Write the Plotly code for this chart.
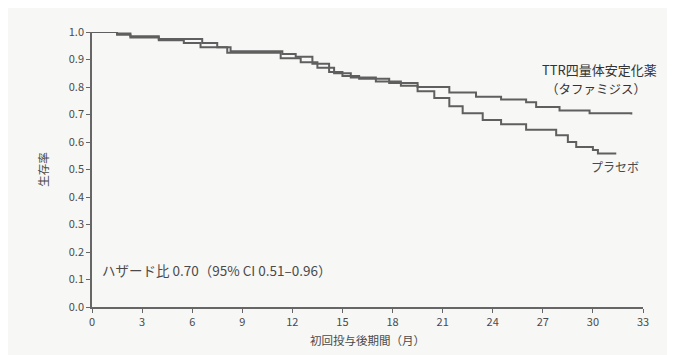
import plotly.graph_objects as go

# Kaplan-Meier curves (months, survival probability)
taf_t = [0, 1.5, 2.3, 4.0, 6.6, 7.5, 8.3, 11.4, 12.2, 13.2, 14.2, 15.0, 16.0,
         17.8, 19.5, 21.4, 23.0, 24.5, 26.0, 26.6, 28.0, 29.8, 32.3]
taf_s = [1.0, 0.995, 0.985, 0.975, 0.96, 0.945, 0.93, 0.92, 0.91, 0.885, 0.855, 0.84, 0.83,
         0.815, 0.80, 0.78, 0.765, 0.755, 0.745, 0.727, 0.715, 0.705, 0.70]

pla_t = [0, 1.5, 2.3, 4.0, 5.5, 6.5, 8.1, 11.3, 12.5, 13.5, 14.5, 15.5, 17.0, 18.5,
         19.5, 20.5, 21.4, 22.2, 23.4, 24.5, 26.0, 27.8, 28.5, 29.0, 30.0, 30.3, 31.4]
pla_s = [1.0, 0.99, 0.98, 0.97, 0.96, 0.945, 0.925, 0.905, 0.89, 0.87, 0.85, 0.835, 0.82, 0.805,
         0.785, 0.76, 0.73, 0.705, 0.68, 0.665, 0.645, 0.625, 0.60, 0.582, 0.571, 0.558, 0.558]

x_ticks = [0, 3, 6, 9, 12, 15, 18, 21, 24, 27, 30, 33]
y_ticks = [0.0, 0.1, 0.2, 0.3, 0.4, 0.5, 0.6, 0.7, 0.8, 0.9, 1.0]

label_taf_1 = "TTR四量体安定化薬"
label_taf_2 = "（タファミジス）"
label_pla = "プラセボ"
hazard_text = "ハザード比 0.70（95% CI 0.51–0.96）"
x_title = "初回投与後期間（月）"
y_title = "生存率"

FONT = "Noto Sans CJK JP"
LINE = "#5f5f5f"
TXT = "#4a4a4a"

fig = go.Figure()
fig.add_trace(go.Scatter(x=taf_t, y=taf_s, mode="lines", line=dict(color=LINE, width=2, shape="hv"),
                         cliponaxis=False, showlegend=False))
fig.add_trace(go.Scatter(x=pla_t, y=pla_s, mode="lines", line=dict(color=LINE, width=2, shape="hv"),
                         cliponaxis=False, showlegend=False))

fig.add_annotation(x=30.4, y=0.865, xref="x", yref="y", text=label_taf_1, showarrow=False,
                   xanchor="center", yanchor="middle", borderpad=0,
                   font=dict(family=FONT, size=13, color="#333333"))
fig.add_annotation(x=30.2, y=0.795, xref="x", yref="y", text=label_taf_2, showarrow=False,
                   xanchor="center", yanchor="middle", borderpad=0,
                   font=dict(family=FONT, size=12.5, color="#333333"))
fig.add_annotation(x=31.3, y=0.51, xref="x", yref="y", text=label_pla, showarrow=False,
                   xanchor="center", yanchor="middle",
                   font=dict(family=FONT, size=12, color=TXT))
fig.add_annotation(x=0.45, y=0.135, xref="x", yref="y", text=hazard_text, showarrow=False,
                   xanchor="left", yanchor="middle",
                   font=dict(family=FONT, size=13.5, color=TXT))

fig.update_xaxes(range=[0, 33], tickvals=x_ticks, ticks="outside", ticklen=4, tickcolor="#666",
                 showline=True, linecolor="#666", linewidth=1.5, showgrid=False, zeroline=False,
                 tickfont=dict(family=FONT, size=11, color=TXT),
                 title=dict(text=x_title, font=dict(family=FONT, size=11.5, color=TXT), standoff=9))
fig.update_yaxes(range=[0, 1.0], tickvals=y_ticks, tickformat=".1f", ticks="outside", ticklen=4,
                 tickcolor="#666", showline=True, linecolor="#666", linewidth=1.5, showgrid=False,
                 zeroline=False, tickfont=dict(family=FONT, size=11, color=TXT),
                 title=dict(text=y_title, font=dict(family=FONT, size=11.5, color=TXT), standoff=18))

# the page body adds an 8px offset, so margins are compensated to land the plot area in place
fig.update_layout(width=675, height=355, margin=dict(l=84, r=40, t=24, b=56, autoexpand=False),
                  paper_bgcolor="#f7f7f5", plot_bgcolor="#f7f7f5",
                  font=dict(family=FONT, color=TXT))

fig.write_html("out.html")
